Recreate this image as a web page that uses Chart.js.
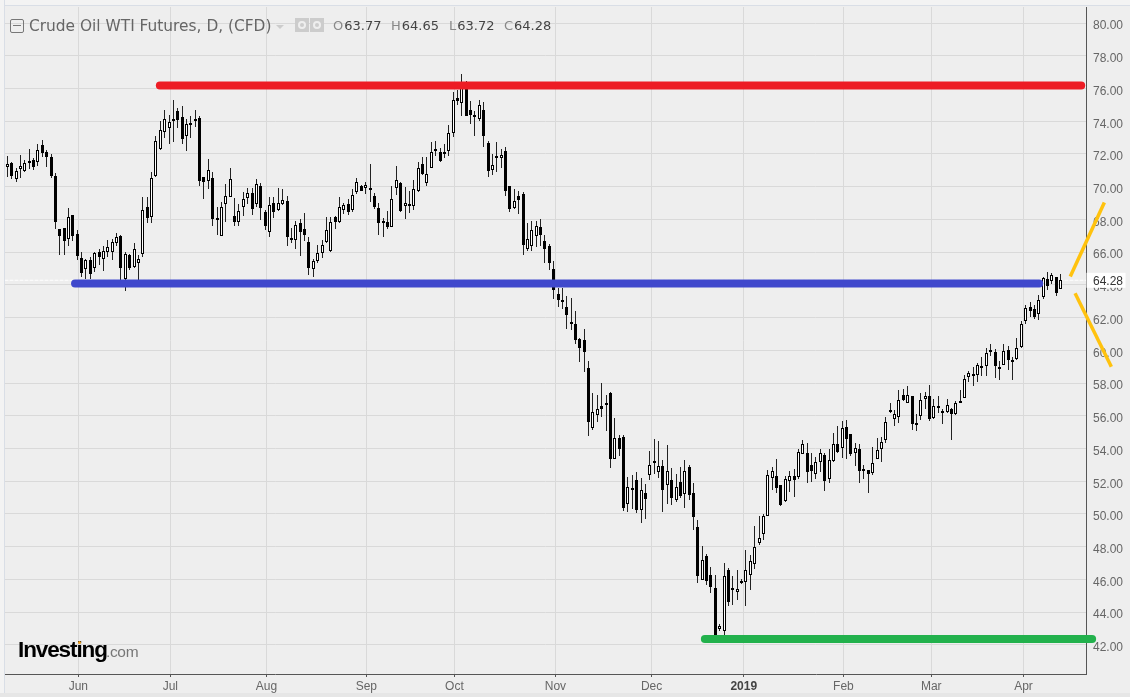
<!DOCTYPE html>
<html><head><meta charset="utf-8">
<script src="https://cdn.jsdelivr.net/npm/chart.js@4"></script>
<style>
html,body{margin:0;padding:0;background:#eeeeee;overflow:hidden}
#wrap{position:relative;width:1130px;height:697px;background:#eeeeee;overflow:hidden}
canvas{position:absolute;left:0;top:0}
.t{position:absolute;white-space:nowrap}
#title{left:29px;top:16px;font:15.4px/20px "DejaVu Sans",sans-serif;color:#666}
.ohlc{top:16px;font:13px/20px "DejaVu Sans",sans-serif;color:#444}
.ohlc b{font-weight:400;color:#888;margin-right:1px}
#minbox{left:10px;top:19px;width:12px;height:12px;border:1px solid #777;border-radius:2px}
#minbox i{position:absolute;left:2px;right:2px;top:5px;height:1px;background:#777}
#caret{left:276px;top:25px;width:0;height:0;border-left:4px solid transparent;border-right:4px solid transparent;border-top:4px solid #ccc}
.ic{top:18px;width:14px;height:14px;background:#ccc}
.ic i{position:absolute;left:3px;top:3px;width:4px;height:4px;border:2px solid #eee;border-radius:50%}
#topstrip{left:0;top:0;width:1130px;height:5px;background:#f3f3f3;border-bottom:1px solid #d9dee6}
#leftstrip{left:0;top:0;width:4px;height:697px;background:#f3f3f3;border-right:1px solid #d9dee6}
#botstrip{left:0;top:693px;width:1130px;height:4px;background:#e6e6e6}
#logo{left:18px;top:636px;font:700 22.5px/28px "Liberation Sans",sans-serif;color:#000;letter-spacing:-1.1px}
#logo span{font:400 15.5px/28px "Liberation Sans",sans-serif;color:#777;letter-spacing:-.3px;margin-left:-1px}
#dot{left:78px;top:641px;width:3px;height:3px;background:#f5a623;border-radius:50%}
</style></head>
<body><div id="wrap">
<canvas id="c" width="1130" height="697"></canvas>
<div class="t" id="topstrip"></div><div class="t" id="leftstrip"></div><div class="t" id="botstrip"></div>
<div class="t" id="minbox"><i></i></div>
<div class="t" id="title">Crude Oil WTI Futures, D, (CFD)</div>
<div class="t" id="caret"></div>
<div class="t ic" style="left:295px"><i></i></div><div class="t ic" style="left:310px"><i></i></div>
<div class="t ohlc" style="left:333px"><b>O</b>63.77</div>
<div class="t ohlc" style="left:391px"><b>H</b>64.65</div>
<div class="t ohlc" style="left:449px"><b>L</b>63.72</div>
<div class="t ohlc" style="left:504px"><b>C</b>64.28</div>
<div class="t" id="logo">Investing<span>.com</span></div><div class="t" id="dot"></div>
</div>
<script>
const opens=[
71.23,71.43,70.49,71.10,70.98,71.55,71.61,71.49,72.53,72.10,
71.80,70.63,67.39,67.49,66.82,68.24,67.10,65.67,64.94,65.49,
65.06,65.98,65.55,66.02,65.98,66.57,66.98,64.37,65.82,65.10,
65.31,65.88,68.73,68.16,70.67,72.29,73.33,73.61,74.12,74.61,
74.24,73.12,73.88,74.12,74.20,70.57,70.37,70.51,68.08,67.00,
68.96,69.39,68.18,67.82,68.73,69.33,69.59,68.94,70.02,68.45,
67.22,68.98,68.57,68.93,69.13,66.85,66.76,67.79,67.43,66.63,
64.99,65.46,65.94,66.61,66.07,68.12,67.85,68.57,68.97,68.57,
69.70,70.05,69.91,69.93,69.46,68.67,67.91,67.85,67.55,69.91,
70.25,68.81,68.95,68.81,69.74,71.39,70.21,71.13,72.30,72.12,
71.98,72.16,73.28,75.43,75.11,76.20,74.68,74.38,74.15,74.68,
72.67,71.00,71.88,71.74,72.18,70.05,68.69,69.44,69.56,66.17,
66.37,66.98,67.55,66.69,66.35,64.95,63.46,62.96,62.67,61.72,
61.63,60.72,60.66,58.89,55.27,56.02,56.57,56.76,57.37,53.38,
54.62,54.68,50.58,51.59,52.08,50.27,51.29,52.41,53.24,52.59,
52.93,51.74,52.08,50.86,51.96,51.19,52.87,51.29,49.22,45.94,
47.45,46.28,45.50,43.00,42.83,46.57,45.50,45.21,45.76,45.82,
46.25,46.92,48.22,48.77,49.85,52.20,52.34,51.79,50.78,52.04,
52.34,52.26,53.68,53.74,53.01,52.44,53.19,53.62,52.16,53.21,
54.29,54.04,55.32,54.90,53.74,53.98,52.62,52.71,52.50,53.38,
53.98,54.53,56.36,55.81,55.93,57.27,56.80,57.21,55.53,55.99,
57.01,57.21,55.87,56.46,56.30,56.22,56.42,56.09,56.77,57.08,
58.35,58.54,58.47,59.02,59.02,59.98,59.89,59.00,59.12,60.02,
59.43,59.49,60.22,61.80,62.63,62.51,62.19,63.28,64.38,64.21,
64.46,63.77];
const closes=[
71.39,70.67,70.94,71.29,71.47,71.47,71.22,72.22,72.08,71.84,
70.67,67.86,67.00,66.69,68.16,67.00,65.76,64.73,65.49,64.67,
65.92,65.71,66.08,66.33,66.63,66.90,65.04,65.86,65.04,66.22,
65.55,68.55,68.06,70.51,72.78,73.45,74.12,73.94,74.04,74.08,
72.94,73.80,73.82,74.04,70.35,70.31,71.00,68.04,67.98,68.73,
69.45,70.45,67.86,68.49,69.27,69.59,68.65,70.14,68.71,67.59,
68.90,68.47,68.98,69.20,66.92,66.79,67.67,67.22,67.04,65.03,
65.48,65.96,66.45,67.37,67.85,67.83,68.77,68.89,68.48,69.50,
70.31,69.76,70.11,69.85,68.73,67.77,67.77,67.53,69.26,70.41,
68.54,68.99,68.93,69.87,71.15,70.80,70.78,72.12,72.22,71.55,
72.12,73.28,75.29,75.21,76.30,74.30,74.36,74.30,74.97,73.12,
70.94,71.31,71.78,71.92,69.72,68.61,69.13,69.17,66.43,66.82,
67.37,67.59,67.02,66.17,65.31,63.69,63.08,63.10,62.16,61.61,
60.64,60.15,59.91,55.64,56.25,56.43,56.43,56.67,53.36,54.62,
53.99,50.39,51.63,51.49,50.25,51.45,50.94,52.98,53.14,52.91,
51.47,52.61,50.98,51.63,51.11,52.63,51.17,49.83,46.23,47.18,
45.88,45.56,42.43,43.18,46.21,44.60,45.33,45.41,45.90,46.57,
47.12,47.98,48.52,49.87,52.40,52.65,51.59,50.54,52.16,52.32,
52.08,53.80,54.29,52.56,52.62,53.19,53.74,52.02,53.31,54.29,
53.78,55.26,54.59,53.66,54.04,52.62,52.77,52.44,53.13,53.92,
54.41,55.63,56.28,56.11,56.97,56.95,57.27,55.48,55.49,56.97,
57.21,55.79,56.60,56.60,56.22,56.66,56.09,56.78,56.91,58.25,
58.62,58.58,59.10,59.06,59.83,60.02,59.02,58.84,59.96,59.39,
59.27,60.14,61.60,62.57,62.43,62.04,63.06,64.40,63.95,64.60,
63.53,64.28];
const highs=[
71.88,71.50,71.12,71.94,71.63,72.31,71.73,72.59,72.84,72.24,
71.98,70.82,67.43,67.49,68.67,68.27,67.35,66.02,65.55,65.71,
66.02,66.22,66.37,66.73,66.78,67.14,67.04,65.98,65.88,66.53,
65.82,69.39,69.39,70.88,73.10,74.04,74.69,74.39,75.31,74.80,
74.90,74.12,74.33,74.69,74.29,70.60,71.69,70.88,68.78,69.08,
70.14,71.12,69.29,68.94,69.69,69.90,69.90,70.47,70.20,68.57,
69.39,69.39,69.90,69.87,69.42,67.45,67.93,68.00,68.40,66.94,
65.56,66.41,66.72,68.12,68.16,68.20,69.34,69.01,69.22,69.83,
70.56,70.08,70.27,71.41,69.62,69.01,68.10,68.54,70.07,71.29,
70.29,69.95,69.76,70.43,71.53,71.82,71.82,72.75,72.81,72.37,
72.63,73.79,75.78,75.90,76.90,76.47,75.25,74.60,75.31,75.15,
72.81,72.02,72.75,72.33,72.43,70.05,69.83,69.72,69.68,67.75,
67.93,67.93,68.00,67.02,66.50,65.45,63.79,63.79,63.30,63.18,
62.39,60.78,61.29,59.32,57.37,57.26,57.98,57.30,57.43,55.86,
54.83,54.83,52.24,52.39,52.57,52.18,51.84,53.85,54.58,54.46,
53.30,54.22,52.81,52.45,52.87,53.30,53.00,51.90,49.64,48.06,
47.57,46.78,46.28,43.30,47.02,46.72,46.23,46.59,46.00,47.81,
47.51,49.28,49.85,49.99,52.67,52.85,53.33,51.79,52.32,52.60,
52.73,53.94,54.55,54.31,53.70,53.50,54.00,53.70,54.00,54.96,
55.40,55.69,55.77,54.90,54.35,54.25,53.01,52.71,54.11,54.65,
54.73,55.91,56.76,56.38,57.59,57.66,57.84,57.21,56.13,57.39,
57.43,57.90,57.05,57.23,56.42,57.05,56.48,56.88,57.60,58.49,
58.76,59.00,59.25,59.60,60.14,60.40,60.08,59.33,60.38,60.28,
59.61,60.75,61.80,62.75,62.98,62.75,63.36,64.46,64.76,64.72,
64.46,64.65];
const lows=[
70.61,70.47,70.31,70.51,70.92,71.08,71.02,71.29,71.84,71.22,
70.55,67.43,65.82,65.82,66.39,66.69,65.51,64.49,64.33,64.33,
64.80,65.20,64.86,65.71,65.51,66.37,64.20,63.63,64.90,65.00,
64.30,65.71,67.76,67.76,70.61,72.24,72.96,72.59,72.76,73.57,
72.59,72.20,73.00,73.67,70.04,69.24,69.84,67.61,67.04,67.00,
67.86,69.39,67.59,67.59,68.22,68.94,68.27,68.78,67.96,67.35,
66.94,68.06,68.53,68.85,66.37,66.53,66.17,65.76,66.67,64.58,
64.50,65.31,65.62,66.57,66.02,67.39,67.79,68.36,68.24,68.44,
69.58,69.74,69.58,69.09,68.61,67.02,66.92,67.39,67.51,69.52,
68.44,68.00,68.40,68.57,69.70,70.74,70.03,71.13,71.90,71.53,
71.74,71.90,73.02,74.97,74.34,74.30,73.85,73.12,73.99,72.41,
70.58,70.70,70.88,71.15,69.46,68.48,68.61,68.30,65.82,66.07,
66.04,66.33,66.37,65.35,64.90,63.16,62.65,62.53,61.31,61.25,
60.39,59.30,58.69,54.78,55.15,55.64,55.94,55.09,52.83,53.38,
53.54,50.21,50.15,50.31,50.07,49.46,49.70,52.08,52.45,52.20,
50.15,50.62,50.56,50.74,50.98,50.37,50.86,49.03,45.80,45.94,
45.68,45.19,42.30,42.83,42.50,44.40,44.46,44.76,45.74,44.40,
45.37,46.65,48.12,48.41,49.85,51.47,51.27,50.47,50.72,51.35,
51.04,52.12,53.64,51.89,51.96,52.14,52.58,51.41,51.89,53.17,
53.74,53.42,53.33,53.54,52.93,51.89,52.12,51.29,52.38,53.33,
53.17,54.35,56.15,55.36,55.55,56.92,56.76,55.12,55.06,55.77,
56.44,55.71,55.81,56.17,55.48,56.15,54.55,56.03,56.77,57.08,
58.05,57.80,58.09,58.41,58.45,59.67,58.33,58.21,59.08,58.82,
58.21,59.43,60.14,61.62,62.06,61.94,61.86,63.16,63.69,64.05,
63.32,63.72];

const monthLabels=["Jun","Jul","Aug","Sep","Oct","Nov","Dec","2019","Feb","Mar","Apr"];
const monthTicks=[16.25,37.3,59.3,82.15,102.3,125.4,147.4,168.5,191.3,211.4,232.5];
const priceTicks=[42,44,46,48,50,52,54,56,58,60,62,64,66,68,70,72,74,76,78,80];

const redX=[34.9,245.7],   redY=[76.18,76.18];
const blueX=[15.5,236.1],blueY=[64.08,64.08];
const greenX=[159.6,248.2],greenY=[42.36,42.36];
const upOrangeX=[243.2,251], upOrangeY=[64.51,69.03];
const downOrangeX=[244.3,252.6], downOrangeY=[63.49,59.0];
const lastClose=64.28;

const xy=(xs,ys)=>xs.map((x,i)=>({x,y:ys[i]}));
const lineDs=(xs,ys,color,width,order,extra)=>Object.assign({type:'line',data:xy(xs,ys),borderColor:color,
  borderWidth:width,pointRadius:0,borderCapStyle:'round',clip:false,order,tension:0},extra||{});

/* the platform snaps candles to whole pixels: do the same with the positions the scales produced */
const snapCandles={id:'snapCandles',afterDatasetsUpdate(ch){
  ch.getSortedVisibleDatasetMetas().forEach(m=>{
    if(m.type!=='bar')return;
    const body=m.controller.getDataset().barThickness>2;
    m.data.forEach(el=>{
      el.x=Math.floor(el.x)+0.5;
      let a=Math.round(Math.min(el.y,el.base)),b=Math.round(Math.max(el.y,el.base));
      if(body&&b-a<2)b=a+2;
      el.y=a;el.base=b;el.height=b-a;
    });
  });
}};

const lastLabel={id:'lastLabel',afterDraw(ch){
  const g=ch.ctx,y=ch.scales.y.getPixelForValue(lastClose);
  g.save();g.fillStyle='#fff';g.fillRect(1086.5,y-7.5,39,15);
  g.fillStyle='#333';g.font='12px "Liberation Sans",sans-serif';g.textBaseline='middle';g.textAlign='left';
  g.fillText(lastClose.toFixed(2),1093,y+1.5);g.restore();
}};

new Chart(document.getElementById('c'),{
  type:'bar',
  plugins:[snapCandles,lastLabel],
  data:{datasets:[
    lineDs(redX,redY,'#ed1c24',8,1),
    lineDs(blueX,blueY,'#3f48cc',8,1),
    lineDs(greenX,greenY,'#22b14c',8,1),
    lineDs(upOrangeX,upOrangeY,'#ffc20e',3.5,1,{borderCapStyle:'butt'}),
    lineDs(downOrangeX,downOrangeY,'#ffc20e',3.5,1,{borderCapStyle:'butt'}),
    {type:'bar',order:2,data:opens.map((o,i)=>({x:i,y:[o,closes[i]]})),barThickness:3,grouped:false,
     backgroundColor:opens.map((o,i)=>closes[i]>=o?'#ffffff':'#000000'),borderColor:'#000',borderWidth:1,borderSkipped:false,inflateAmount:0},
    {type:'bar',order:3,data:opens.map((o,i)=>({x:i,y:[lows[i],highs[i]]})),barThickness:1,grouped:false,
     backgroundColor:'#222',borderWidth:0,inflateAmount:0},
    lineDs([-0.53,246.8],[lastClose,lastClose],'#ffffff',1,4,{borderDash:[3,2],clip:true})
  ]},
  options:{
    responsive:false,animation:false,devicePixelRatio:1,
    layout:{padding:{left:5,top:7,right:0,bottom:0}},
    plugins:{legend:{display:false},tooltip:{enabled:false}},
    scales:{
      x:{type:'linear',offset:false,min:-0.53,max:246.8,
        afterBuildTicks(s){s.ticks=monthTicks.map(v=>({value:v}))},
        afterFit(s){s.height=23;s.paddingLeft=0;s.paddingRight=0},
        grid:{offset:false,color:'#d9d9d9',tickColor:'#555',tickLength:3,lineWidth:1},
        border:{color:'#555',width:1},
        ticks:{autoSkip:false,maxRotation:0,includeBounds:false,padding:2,
          callback:(v,i)=>monthLabels[i],
          color:c=>monthLabels[c.index]==='2019'?'#444':'#666',
          font:c=>({family:'"Liberation Sans",sans-serif',size:12,weight:monthLabels[c.index]==='2019'?'bold':'normal'})}},
      y:{type:'linear',position:'right',min:40.22,max:80.98,
        afterBuildTicks(s){s.ticks=priceTicks.map(v=>({value:v}))},
        afterFit(s){s.width=44;s.paddingTop=0;s.paddingBottom=0},
        grid:{color:'#d9d9d9',lineWidth:1,drawTicks:false},
        border:{color:'#555',width:1},
        ticks:{padding:7,labelOffset:3,color:'#666',font:{family:'"Liberation Sans",sans-serif',size:12},callback:v=>v.toFixed(2)}}
    }
  }
});
</script>
</body></html>
